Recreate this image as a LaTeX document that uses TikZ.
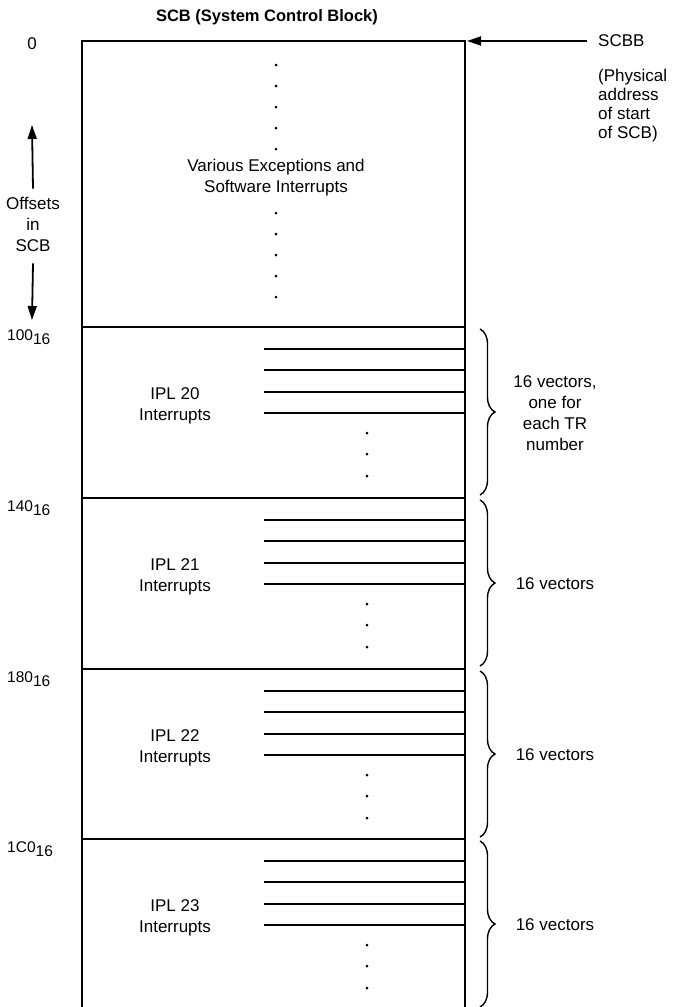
\documentclass[tikz,border=0pt]{standalone}
\usepackage{fontspec}
\setmainfont{Liberation Sans}
\usepackage{tikz}
\usetikzlibrary{arrows.meta,positioning,decorations.pathreplacing,calc}
\tikzset{
  txt/.style    ={font=\fontsize{17}{21}\selectfont, inner sep=0pt, align=center},
  ttl/.style    ={txt, font=\fontsize{16.5}{21}\selectfont\bfseries},
  offlbl/.style ={txt, font=\fontsize{15.5}{18}\selectfont, anchor=west},
  note/.style   ={txt, font=\fontsize{17}{19}\selectfont, align=left, anchor=north west},
  wall/.style   ={line width=1.8pt},
  vecline/.style={line width=1.4pt},
  arr/.style    ={-{Triangle[length=14pt,width=9pt]}, line width=1.8pt},
  brc/.style    ={decorate, decoration={brace, amplitude=15pt}, line width=1.4pt},
}
\newcommand{\vdot}[2]{\fill (#1,#2) circle (1.5pt);}

\begin{document}
\begin{tikzpicture}[x=1pt,y=-1pt]
  \useasboundingbox (0,0) rectangle (675,1007);
  % outer block
  \coordinate (tl) at (82,41);
  \coordinate (tr) at (465,41);
  \coordinate (bl) at (82,1007);
  \coordinate (br) at (465,1007);
  \draw[wall] (bl) -- (tl) -- (tr) -- (br);
  \node[ttl] (title) at (267,17) {SCB (System Control Block)};
  \node[txt] (zero) at (32,44) {0};
  % offsets arrows
  \node[txt] (offs) at (33,224) {Offsets\\in\\SCB};
  \coordinate (uptip) at (32,125);
  \coordinate (dntip) at (32,320);
  \draw[arr] ([yshift=8pt]offs.north) -- (uptip);
  \draw[arr] ([yshift=-12pt]offs.south) -- (dntip);
  % base register
  \node[txt, anchor=west] (scbb) at (598,41) {SCBB};
  \node[note] (scbbnote) at (598,69) {(Physical\\address\\of start\\of SCB)};
  \draw[arr, shorten >=2pt] ([xshift=-11pt]scbb.west) -- (tr);
  % exceptions area
  \node[txt] (exc) at (276,178) {Various Exceptions and\\Software Interrupts};
  \foreach \d in {65,86,...,149} {\vdot{276}{\d}}
  \foreach \d in {213,234,...,297} {\vdot{276}{\d}}
  % interrupt vector sections
  \foreach \y/\off/\ipl/\cnt [count=\i] in {
      327/100/20/{16 vectors,\\one for\\each TR\\number},
      498/140/21/{16 vectors},
      669/180/22/{16 vectors},
      839/1C0/23/{16 vectors}} {
    \draw[wall] (82,\y) -- (465,\y);
    \node[offlbl] (off\i) at (7,\y+10) {\off\raisebox{-4pt}{16}};
    \node[txt] (ipl\i) at (175,\y+79) {IPL \ipl\\Interrupts};
    \foreach \dy in {22,43,65,86}
      \draw[vecline] (264,\y+\dy) -- (465,\y+\dy);
    \foreach \dy in {106,127,149} {\vdot{367}{\y+\dy}}
    \coordinate (bt\i) at (480,\y+2);
    \coordinate (bb\i) at (480,\y+168);
    \draw[brc] (bt\i) -- (bb\i);
    \node[txt] (cnt\i) at (555,\y+86) {\cnt};
  }
\end{tikzpicture}
\end{document}
